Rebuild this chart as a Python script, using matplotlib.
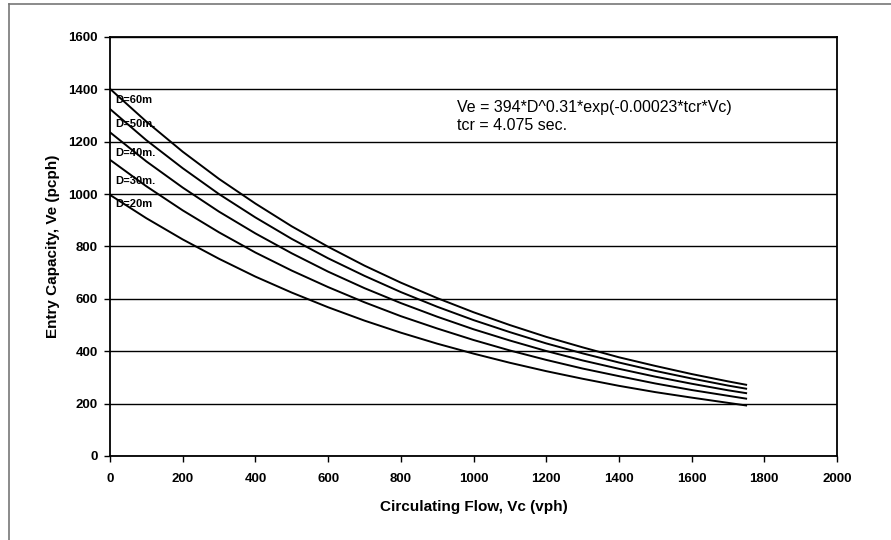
import matplotlib
matplotlib.use('Agg')
from matplotlib import pyplot as plt
from matplotlib.lines import Line2D

plt.rcParams['font.family'] = ['Liberation Sans', 'DejaVu Sans']

# circulating flow (vph)
vc = [0, 100, 200, 300, 400, 500, 600, 700, 800, 900, 1000,
      1100, 1200, 1300, 1400, 1500, 1600, 1700, 1750]

# entry capacity (pcph) per circle diameter
ve_20 = [997, 908, 827, 753, 685, 624, 568, 517, 471, 429, 391,
         356, 324, 295, 268, 244, 223, 203, 193]
ve_30 = [1131, 1030, 938, 854, 777, 708, 645, 587, 534, 487, 443,
         403, 367, 334, 305, 277, 252, 230, 219]
ve_40 = [1236, 1125, 1025, 933, 850, 774, 704, 641, 584, 532, 484,
         441, 401, 365, 333, 303, 276, 251, 240]
ve_50 = [1325, 1206, 1099, 1000, 911, 829, 755, 688, 626, 570, 519,
         473, 430, 392, 357, 325, 296, 269, 257]
ve_60 = [1402, 1277, 1162, 1058, 964, 877, 799, 727, 662, 603, 549,
         500, 455, 415, 377, 344, 313, 285, 272]

series = [ve_20, ve_30, ve_40, ve_50, ve_60]
labels = ['D=20m', 'D=30m.', 'D=40m.', 'D=50m.', 'D=60m']
label_y = [962, 1050, 1157, 1267, 1359]

xticks = [0, 200, 400, 600, 800, 1000, 1200, 1400, 1600, 1800, 2000]
yticks = [0, 200, 400, 600, 800, 1000, 1200, 1400, 1600]

fig = plt.figure(figsize=(8.91, 5.40), dpi=100)
ax = fig.add_axes([110 / 891, 84 / 540, 727 / 891, 419 / 540])

for ys in series:
    ax.plot(vc, ys, color='black', lw=1.4)

for lab, ly in zip(labels, label_y):
    ax.text(14, ly, lab, fontsize=8, fontweight='bold', va='center', ha='left')

ax.text(955, 1332, 'Ve = 394*D^0.31*exp(-0.00023*tcr*Vc)', fontsize=11.5, va='center')
ax.text(955, 1263, 'tcr = 4.075 sec.', fontsize=11.5, va='center')

ax.set_xlim(0, 2000)
ax.set_ylim(0, 1600)
ax.set_xticks(xticks)
ax.set_yticks(yticks)
ax.set_xticklabels([str(t) for t in xticks], fontsize=9.5, fontweight='bold')
ax.set_yticklabels([str(t) for t in yticks], fontsize=9.5, fontweight='bold')
ax.tick_params(direction='out', length=4, width=1, color='black', pad=5)
ax.tick_params(axis='x', pad=8)
ax.yaxis.grid(True, color='black', lw=1)
ax.set_axisbelow(True)
for s in ax.spines.values():
    s.set_color('black')
    s.set_linewidth(1.3)

ax.set_xlabel('Circulating Flow, Vc (vph)', fontsize=11, fontweight='bold', labelpad=11)
ax.set_ylabel('Entry Capacity, Ve (pcph)', fontsize=11, fontweight='bold', labelpad=6)

# outer frame of the original chart
fig.add_artist(Line2D([9 / 891, 9 / 891], [0, 1 - 4 / 540], color='#777777', lw=1.2))
fig.add_artist(Line2D([9 / 891, 1], [1 - 4 / 540, 1 - 4 / 540], color='#777777', lw=1.2))

plt.savefig('out.png', dpi=100)
